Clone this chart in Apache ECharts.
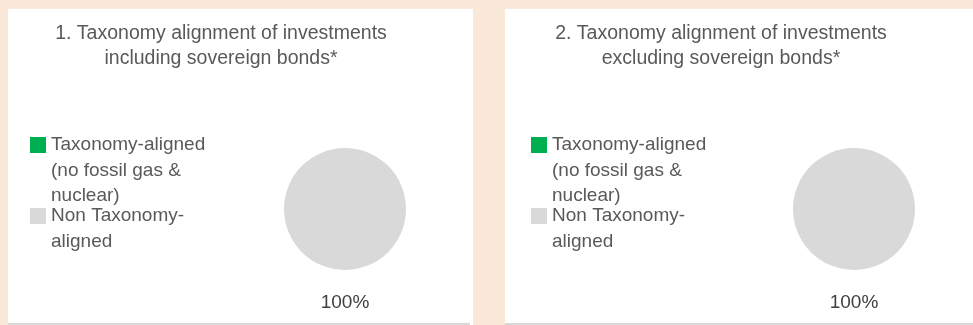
<!DOCTYPE html>
<html>
<head>
<meta charset="utf-8">
<script src="https://cdn.jsdelivr.net/npm/echarts@6/dist/echarts.min.js"></script>
<style>
html,body{margin:0;padding:0;background:#FAE9D8;}
#chart{width:973px;height:325px;}
</style>
</head>
<body>
<div id="chart"></div>
<script>
// ---- data ----
const chartTitles = [
  '1. Taxonomy alignment of investments\nincluding sovereign bonds*',
  '2. Taxonomy alignment of investments\nexcluding sovereign bonds*'
];
const categories = ['Taxonomy-aligned (no fossil gas & nuclear)', 'Non Taxonomy-aligned'];
const legendLabels = ['Taxonomy-aligned\n(no fossil gas &\nnuclear)', 'Non Taxonomy-\naligned'];
const valuesIncluding = [0, 100];
const valuesExcluding = [0, 100];
const colors = ['#00B050', '#D9D9D9'];

// ---- chart ----
const FONT = 'Liberation Sans';
const FS = 19;
const LH = 25.5;
const chart = echarts.init(document.getElementById('chart'));

function repeatNL(n) { let s = ''; for (let i = 0; i < n; i++) s += '\n'; return s; }

function legendFor(left) {
  return {
    orient: 'vertical',
    left: left,
    top: 81.25,
    padding: 0,
    itemWidth: 16,
    itemHeight: 16,
    itemGap: -31,
    icon: 'rect',
    selectedMode: false,
    // leading blank lines keep the icon level with the first text line
    formatter: function (name) {
      const t = legendLabels[categories.indexOf(name)];
      return repeatNL(t.split('\n').length - 1) + t;
    },
    textStyle: { fontFamily: FONT, fontSize: FS, color: '#595959', lineHeight: LH },
    data: categories.slice()
  };
}

function pieFor(cx, values) {
  return {
    type: 'pie',
    center: [cx, 209],
    radius: 61,
    startAngle: 90,
    clockwise: true,
    silent: true,
    itemStyle: { borderWidth: 0 },
    label: {
      show: true,
      position: 'center',
      lineHeight: 23.5,
      fontFamily: FONT,
      fontSize: FS,
      color: '#404040',
      // label sits below the pie: 8 leading blank lines push it down from the centre
      formatter: function (p) { return p.value ? repeatNL(8) + Math.round(p.percent) + '%' : ''; }
    },
    labelLine: { show: false },
    emphasis: { disabled: true },
    data: categories.map(function (c, i) {
      return { name: c, value: values[i], itemStyle: { color: colors[i] } };
    })
  };
}

const titleStyle = { fontFamily: FONT, fontSize: 19.5, fontWeight: 'normal', color: '#595959', lineHeight: 25 };

const option = {
  backgroundColor: '#FAE9D8',
  animation: false,
  graphic: [
    { type: 'rect', shape: { x: 8, y: 9, width: 465, height: 316 }, style: { fill: '#FFFFFF' }, z: -10 },
    { type: 'rect', shape: { x: 505, y: 9, width: 468, height: 316 }, style: { fill: '#FFFFFF' }, z: -10 },
    { type: 'rect', shape: { x: 8, y: 323, width: 462, height: 2 }, style: { fill: '#D9D9D9' }, z: -9 },
    { type: 'rect', shape: { x: 505, y: 323, width: 468, height: 2 }, style: { fill: '#D9D9D9' }, z: -9 }
  ],
  title: [
    { text: chartTitles[0], left: 221, top: 21, padding: 0, textAlign: 'center', textStyle: titleStyle },
    { text: chartTitles[1], left: 721, top: 21, padding: 0, textAlign: 'center', textStyle: titleStyle }
  ],
  legend: [legendFor(30), legendFor(531)],
  series: [pieFor(345, valuesIncluding), pieFor(854, valuesExcluding)]
};
chart.setOption(option);
</script>
</body>
</html>
